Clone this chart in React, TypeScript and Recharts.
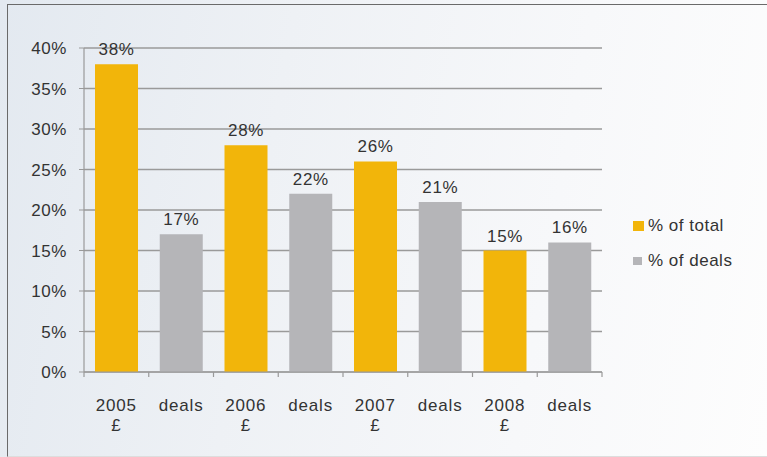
import React from 'react';
import { BarChart, Bar, XAxis, YAxis, CartesianGrid, LabelList } from 'recharts';

const categories = ['2005|£', 'deals', '2006|£', 'deals', '2007|£', 'deals', '2008|£', 'deals'];
const pctOfTotal: (number | null)[] = [38, null, 28, null, 26, null, 15, null];
const pctOfDeals: (number | null)[] = [null, 17, null, 22, null, 21, null, 16];
const yTicks = [0, 5, 10, 15, 20, 25, 30, 35, 40];

const seriesNames = ['% of total', '% of deals'];
const colors = ['#F2B50A', '#B5B5B8'];

const data = categories.map((c, i) => ({
  cat: c,
  total: pctOfTotal[i],
  deals: pctOfDeals[i],
}));

const FONT = 'Liberation Sans, Arial, sans-serif';
const TEXT = '#333333';

const XTick = (props: any) => {
  const { x, y, payload, index, visibleTicksCount } = props;
  const band = 518 / categories.length;
  const lines = String(payload.value).split('|');
  const ty = y - 8;
  return (
    <g>
      <line x1={x - band / 2} x2={x - band / 2} y1={ty} y2={ty + 5} stroke="#999" strokeWidth={1.2} />
      {index === (visibleTicksCount ?? categories.length) - 1 && (
        <line x1={x + band / 2} x2={x + band / 2} y1={ty} y2={ty + 5} stroke="#999" strokeWidth={1.2} />
      )}
      {lines.map((l, i) => (
        <text
          key={i}
          x={x}
          y={ty + 39 + i * 20}
          textAnchor="middle"
          fontFamily={FONT}
          fontSize={17}
          letterSpacing={0.8}
          fill={TEXT}
        >
          {l}
        </text>
      ))}
    </g>
  );
};

export default function App() {
  return (
    <div
      style={{
        position: 'absolute',
        left: 0,
        top: 0,
        width: 767,
        height: 457,
        overflow: 'hidden',
        background: 'linear-gradient(100deg, #e3e9f0 0%, #eef1f5 35%, #f7f8fa 70%, #fdfdfd 100%)',
      }}
    >
      <div
        style={{
          position: 'absolute',
          left: 7,
          top: 4,
          width: 780,
          height: 451,
          borderTop: '1.5px solid #6a6a6a',
          borderLeft: '1.5px solid #6a6a6a',
          borderBottom: '1.5px solid #dddddd',
        }}
      />
      <div style={{ position: 'absolute', left: 0, top: 0 }}>
        <BarChart
          width={767}
          height={457}
          data={data}
          margin={{ top: 48, right: 165, bottom: 0, left: 0 }}
          barSize={43}
        >
          <CartesianGrid vertical={false} stroke="#9a9a9a" strokeWidth={1.5} />
          <XAxis
            dataKey="cat"
            height={85}
            tickLine={false}
            axisLine={{ stroke: '#999', strokeWidth: 1.2 }}
            tick={<XTick />}
            interval={0}
          />
          <YAxis
            width={84}
            domain={[0, 40]}
            ticks={yTicks}
            tickFormatter={(v: number) => `${v}%`}
            tick={{ fontFamily: FONT, fontSize: 17, fill: TEXT, letterSpacing: 0.6 }}
            tickLine={{ stroke: '#999' }}
            tickSize={5}
            tickMargin={12}
            axisLine={{ stroke: '#999', strokeWidth: 1.2 }}
          />
          <Bar dataKey="total" name={seriesNames[0]} stackId="a" fill={colors[0]} isAnimationActive={false}>
            <LabelList
              dataKey="total"
              position="top"
              offset={9}
              formatter={(v: any) => (v == null ? '' : `${v}%`)}
              style={{ fontFamily: FONT, fontSize: 17, fill: TEXT, letterSpacing: 0.6 }}
            />
          </Bar>
          <Bar dataKey="deals" name={seriesNames[1]} stackId="a" fill={colors[1]} isAnimationActive={false}>
            <LabelList
              dataKey="deals"
              position="top"
              offset={9}
              formatter={(v: any) => (v == null ? '' : `${v}%`)}
              style={{ fontFamily: FONT, fontSize: 17, fill: TEXT, letterSpacing: 0.6 }}
            />
          </Bar>
        </BarChart>
      </div>
      <div
        style={{
          position: 'absolute',
          left: 633,
          top: 208,
          width: 134,
          fontFamily: FONT,
          fontSize: 17,
          letterSpacing: 0.5,
          color: TEXT,
        }}
      >
        {seriesNames.map((n, i) => (
          <div key={n} style={{ display: 'flex', alignItems: 'center', height: 35 }}>
            <span
              style={{
                display: 'inline-block',
                width: i === 0 ? 11 : 9,
                height: i === 0 ? 10 : 8,
                background: colors[i],
                marginRight: i === 0 ? 4 : 6,
              }}
            />
            <span>{n}</span>
          </div>
        ))}
      </div>
    </div>
  );
}
